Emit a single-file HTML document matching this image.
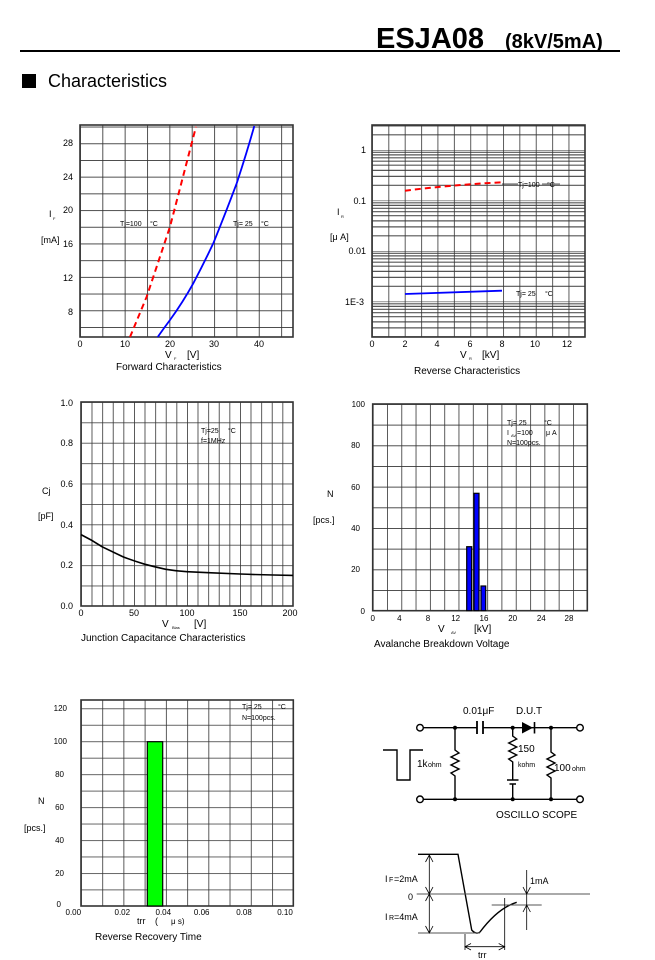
<!DOCTYPE html>
<html><head><meta charset="utf-8"><style>
html,body{margin:0;padding:0;background:#fff}
svg{display:block}
text{font-family:"Liberation Sans",sans-serif;fill:#000}
</style></head><body>
<svg width="655" height="960" viewBox="0 0 655 960" xmlns="http://www.w3.org/2000/svg">
<defs>
<pattern id="g1" patternUnits="userSpaceOnUse" x="80" y="143.3" width="22.35" height="16.7"><path d="M0 0V16.7M0 0H22.35" stroke="#333" stroke-width="1.7" fill="none"/></pattern>
<pattern id="g2v" patternUnits="userSpaceOnUse" x="372" y="0" width="16.38" height="50"><path d="M0 0V50" stroke="#333" stroke-width="1.6"/></pattern>
<pattern id="g2h" patternUnits="userSpaceOnUse" x="0" y="150" width="50" height="50.5"><path d="M0 0H50M0 35.3H50M0 26.4H50M0 20.4H50M0 15.2H50M0 11.2H50M0 7.8H50M0 4.9H50M0 2.3H50" stroke="#555" stroke-width="1.2" fill="none"/></pattern>
<pattern id="g3" patternUnits="userSpaceOnUse" x="81" y="402" width="10.6" height="20.4"><path d="M0 0V20.4M0 0H10.6" stroke="#333" stroke-width="1.6" fill="none"/></pattern>
<pattern id="g4" patternUnits="userSpaceOnUse" x="372.7" y="404" width="14.31" height="20.67"><path d="M0 0V20.67M0 0H14.31" stroke="#333" stroke-width="1.6" fill="none"/></pattern>
<pattern id="g5" patternUnits="userSpaceOnUse" x="81" y="906" width="21.23" height="16.47"><path d="M0 0V16.47M0 0H21.23" stroke="#333" stroke-width="1.6" fill="none"/></pattern>
</defs>

<!-- Header -->
<text x="376" y="48" font-size="29" font-weight="bold">ESJA08</text>
<text x="505" y="48" font-size="20" font-weight="bold">(8kV/5mA)</text>
<line x1="20" y1="51" x2="620" y2="51" stroke="#000" stroke-width="2"/>
<rect x="22" y="74" width="14" height="14" fill="#000"/>
<text x="48" y="87" font-size="18">Characteristics</text>

<!-- Chart 1 Forward -->
<rect x="80" y="125" width="213" height="212" fill="url(#g1)"/>
<rect x="80" y="125" width="213" height="212" fill="none" stroke="#333" stroke-width="1.6"/>
<g font-size="9" text-anchor="end">
<text x="73" y="146">28</text><text x="73" y="180">24</text><text x="73" y="213">20</text><text x="73" y="247">16</text><text x="73" y="281">12</text><text x="73" y="315">8</text></g>
<g font-size="9" text-anchor="middle">
<text x="80" y="347">0</text><text x="125" y="347">10</text><text x="170" y="347">20</text><text x="214" y="347">30</text><text x="259" y="347">40</text></g>
<text x="49" y="217" font-size="9">I</text><text x="53" y="220" font-size="4">F</text>
<text x="41" y="243" font-size="9">[mA]</text>
<text x="165" y="358" font-size="10">V</text><text x="174" y="360" font-size="4">F</text><text x="187" y="358" font-size="10">[V]</text>
<text x="116" y="370" font-size="10">Forward Characteristics</text>
<text x="120" y="226" font-size="7">Tj=100</text><text x="150" y="226" font-size="7">°C</text>
<text x="233" y="226" font-size="7">Tj= 25</text><text x="261" y="226" font-size="7">°C</text>
<path d="M130 337L146.7 296.7L170 226.7L196 126.7" stroke="#f00" stroke-width="2" stroke-dasharray="6,4" fill="none"/>
<path d="M157.7 337Q164 328 170 320Q183 302 193.3 283.3Q204 263 213.3 243.3Q226 212 236.7 183.3Q247 152 254.3 126" stroke="#00f" stroke-width="1.8" fill="none"/>

<!-- Chart 2 Reverse -->
<rect x="372" y="125" width="213" height="212" fill="url(#g2h)"/>
<rect x="372" y="125" width="213" height="212" fill="url(#g2v)"/>
<rect x="372" y="125" width="213" height="212" fill="none" stroke="#333" stroke-width="1.6"/>
<g font-size="9" text-anchor="end">
<text x="366" y="153">1</text><text x="366" y="204">0.1</text><text x="366" y="254">0.01</text><text x="364" y="305">1E-3</text></g>
<g font-size="9" text-anchor="middle">
<text x="372" y="347">0</text><text x="405" y="347">2</text><text x="437" y="347">4</text><text x="470" y="347">6</text><text x="502" y="347">8</text><text x="535" y="347">10</text><text x="567" y="347">12</text></g>
<text x="337" y="215" font-size="9">I</text><text x="341" y="218" font-size="4">R</text>
<text x="330" y="240" font-size="9">[μ A]</text>
<text x="460" y="358" font-size="10">V</text><text x="469" y="360" font-size="4">R</text><text x="482" y="358" font-size="10">[kV]</text>
<text x="414" y="374" font-size="10">Reverse Characteristics</text>
<path d="M405 190.7Q450 185 502 182.3" stroke="#f00" stroke-width="2" stroke-dasharray="6,4" fill="none"/>
<line x1="502" y1="184" x2="518" y2="184" stroke="#222" stroke-width="0.8"/>
<text x="518" y="187" font-size="7">Tj=100</text><text x="547" y="187" font-size="7">°C</text>
<line x1="542" y1="184" x2="560" y2="184" stroke="#222" stroke-width="0.8"/>
<path d="M405 294L502 290.7" stroke="#00f" stroke-width="1.8" fill="none"/>
<text x="516" y="296" font-size="7">Tj= 25</text><text x="545" y="296" font-size="7">°C</text>

<!-- Chart 3 Cj -->
<rect x="81" y="402" width="212" height="204" fill="url(#g3)"/>
<rect x="81" y="402" width="212" height="204" fill="none" stroke="#333" stroke-width="1.6"/>
<g font-size="9" text-anchor="end">
<text x="73" y="406">1.0</text><text x="73" y="446">0.8</text><text x="73" y="487">0.6</text><text x="73" y="528">0.4</text><text x="73" y="568">0.2</text><text x="73" y="609">0.0</text></g>
<g font-size="9" text-anchor="middle">
<text x="81" y="616">0</text><text x="134" y="616">50</text><text x="187" y="616">100</text><text x="240" y="616">150</text><text x="290" y="616">200</text></g>
<text x="42" y="494" font-size="9">Cj</text>
<text x="38" y="519" font-size="9">[pF]</text>
<text x="162" y="627" font-size="10">V</text><text x="172" y="629" font-size="4">Bias</text><text x="194" y="627" font-size="10">[V]</text>
<text x="81" y="641" font-size="10">Junction Capacitance Characteristics</text>
<text x="201" y="433" font-size="7">Tj=25</text><text x="228" y="433" font-size="7">°C</text>
<text x="201" y="443" font-size="7">f=1MHz</text>
<path d="M81 534.6Q92 540 102.2 546.8Q113 552 123.4 557Q134 561 144.6 564.2Q155 567 165.8 569.3Q176 571 187 571.7Q213 573 240 574Q266 575 293 575.4" stroke="#000" stroke-width="1.6" fill="none"/>

<!-- Chart 4 Avalanche -->
<rect x="372.7" y="404" width="214.6" height="206.7" fill="url(#g4)"/>
<rect x="372.7" y="404" width="214.6" height="206.7" fill="none" stroke="#333" stroke-width="1.6"/>
<g font-size="8" text-anchor="end">
<text x="365" y="407">100</text><text x="360" y="448">80</text><text x="360" y="490">60</text><text x="360" y="531">40</text><text x="360" y="572">20</text><text x="365" y="614">0</text></g>
<g font-size="8" text-anchor="middle">
<text x="372.7" y="621">0</text><text x="399.3" y="621">4</text><text x="428" y="621">8</text><text x="455.7" y="621">12</text><text x="484" y="621">16</text><text x="512.7" y="621">20</text><text x="541.3" y="621">24</text><text x="569" y="621">28</text></g>
<text x="327" y="497" font-size="9">N</text>
<text x="313" y="523" font-size="9">[pcs.]</text>
<text x="438" y="632" font-size="10">V</text><text x="451" y="634" font-size="4">AV</text><text x="474" y="632" font-size="10">[kV]</text>
<text x="374" y="647" font-size="10">Avalanche Breakdown Voltage</text>
<text x="507" y="425" font-size="7">Tj= 25</text><text x="544" y="425" font-size="7">°C</text>
<text x="507" y="435" font-size="7">I</text><text x="511" y="437" font-size="4">AV</text><text x="517" y="435" font-size="7">=100</text><text x="546" y="435" font-size="7">μ A</text>
<text x="507" y="445" font-size="7">N=100pcs.</text>
<rect x="466.7" y="546.7" width="5" height="64" fill="#0000ff" stroke="#000" stroke-width="1.2"/>
<rect x="474" y="493.3" width="5" height="117.4" fill="#0000ff" stroke="#000" stroke-width="1.2"/>
<rect x="481" y="586" width="4.7" height="24.7" fill="#0000ff" stroke="#000" stroke-width="1.2"/>

<!-- Chart 5 trr -->
<rect x="81" y="700" width="212.3" height="206" fill="url(#g5)"/>
<rect x="81" y="700" width="212.3" height="206" fill="none" stroke="#333" stroke-width="1.6"/>
<g font-size="8" text-anchor="end">
<text x="67" y="711">120</text><text x="67" y="744">100</text><text x="64" y="777">80</text><text x="64" y="810">60</text><text x="64" y="843">40</text><text x="64" y="876">20</text><text x="61" y="907">0</text></g>
<g font-size="8" text-anchor="middle">
<text x="73.3" y="915">0.00</text><text x="122.3" y="915">0.02</text><text x="163.3" y="915">0.04</text><text x="201.7" y="915">0.06</text><text x="244" y="915">0.08</text><text x="285" y="915">0.10</text></g>
<text x="38" y="804" font-size="9">N</text>
<text x="24" y="831" font-size="9">[pcs.]</text>
<text x="137" y="924" font-size="9">trr</text><text x="155" y="924" font-size="9">(</text><text x="171" y="924" font-size="8">μ s)</text>
<text x="95" y="940" font-size="10">Reverse Recovery Time</text>
<text x="242" y="709" font-size="7">Tj= 25</text><text x="278" y="709" font-size="7">°C</text>
<text x="242" y="720" font-size="7">N=100pcs.</text>
<rect x="147.3" y="741.7" width="15.4" height="164.3" fill="#00ff00" stroke="#000" stroke-width="1.2"/>

<!-- Circuit -->
<g stroke="#000" stroke-width="1.4" fill="none">
<path d="M423.3 727.7H477M483 727.7H577"/>
<path d="M477 721V734M483 721V734" stroke-width="1.8"/>
<path d="M423.3 799.3H577"/>
<circle cx="420" cy="727.7" r="3.3" fill="#fff"/><circle cx="580" cy="727.7" r="3.3" fill="#fff"/>
<circle cx="420" cy="799.3" r="3.3" fill="#fff"/><circle cx="580" cy="799.3" r="3.3" fill="#fff"/>
<path d="M455 727.7V750L459 753L451 757L459 761L451 765L459 769L451 773L455 776V799.3"/>
<path d="M512.7 727.7V736L516.7 739L508.7 743L516.7 747L508.7 751L516.7 755L508.7 759L512.7 762V780M507 780H518.5M509.5 784H516M512.7 784V799.3"/>
<path d="M551 727.7V752L555 755L547 759L555 763L547 767L555 771L547 775L551 778V799.3"/>
<path d="M383 750H397V780H410V750H423"/>
</g>
<path d="M522 722V733.5L533 727.7Z" fill="#000"/>
<line x1="534.5" y1="722" x2="534.5" y2="733.5" stroke="#000" stroke-width="1.6"/>
<g fill="#000"><circle cx="455" cy="727.7" r="2"/><circle cx="512.7" cy="727.7" r="2"/><circle cx="551" cy="727.7" r="2"/>
<circle cx="455" cy="799.3" r="2"/><circle cx="512.7" cy="799.3" r="2"/><circle cx="551" cy="799.3" r="2"/></g>
<text x="463" y="714" font-size="10">0.01μF</text>
<text x="516" y="714" font-size="10">D.U.T</text>
<text x="417" y="767" font-size="10">1k</text><text x="428" y="767" font-size="7">ohm</text>
<text x="518" y="752" font-size="10">150</text>
<text x="518" y="767" font-size="7">kohm</text>
<text x="554" y="771" font-size="10">100</text><text x="572" y="771" font-size="7">ohm</text>
<text x="496" y="818" font-size="10">OSCILLO SCOPE</text>

<!-- Waveform -->
<g stroke="#000" fill="none">
<path d="M418 854.3H458L471.7 930Q476 935 480 932Q498 908 516.7 902.3" stroke-width="1.4"/>
<path d="M416.7 894H590M418 933H480M491.7 905H541.7" stroke="#555" stroke-width="1"/>
<path d="M429.3 855V933M425.5 862L429.3 855L433 862M425.5 887L429.3 894L433 887M425.5 901L429.3 894L433 901M425.5 926L429.3 933L433 926" stroke-width="0.8"/>
<path d="M504.7 898V950M465 934V950M465 946.7H504.7M471 943.5L465 946.7L471 950M498.7 943.5L504.7 946.7L498.7 950" stroke-width="0.8"/>
<path d="M526.7 870V930M523 887L526.7 894L530.4 887M523 912L526.7 905L530.4 912" stroke-width="0.8"/>
</g>
<text x="385" y="882" font-size="9">I</text><text x="389" y="882" font-size="7">F</text><text x="394" y="882" font-size="9">=2mA</text>
<text x="408" y="900" font-size="9">0</text>
<text x="385" y="920" font-size="9">I</text><text x="389" y="920" font-size="7">R</text><text x="394" y="920" font-size="9">=4mA</text>
<text x="530" y="884" font-size="9">1mA</text>
<text x="478" y="958" font-size="9">trr</text>
</svg>
</body></html>
